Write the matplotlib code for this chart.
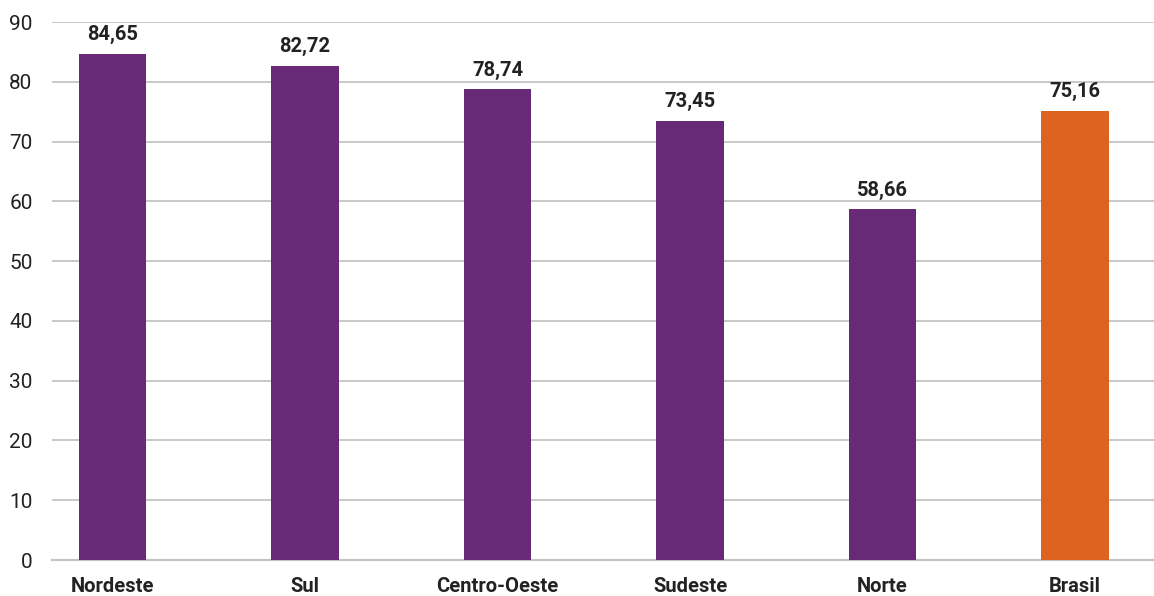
import matplotlib
matplotlib.use("Agg")
import matplotlib.pyplot as plt
from matplotlib import font_manager

categories = ["Nordeste", "Sul", "Centro-Oeste", "Sudeste", "Norte", "Brasil"]
values = [84.65, 82.72, 78.74, 73.45, 58.66, 75.16]
bar_colors = ["#682a77", "#682a77", "#682a77", "#682a77", "#682a77", "#dc6420"]
yticks = [0, 10, 20, 30, 40, 50, 60, 70, 80, 90]

names = {f.name for f in font_manager.fontManager.ttflist}
fam = [f for f in ["Liberation Sans Narrow", "Roboto", "DejaVu Sans"] if f in names]
plt.rcParams["font.family"] = fam

fig = plt.figure(figsize=(11.54, 5.96), dpi=100)
ax = fig.add_axes([52/1154, 36/596, 1102/1154, 538/596])

x = list(range(len(categories)))
bars = ax.bar(x, values, width=0.35, color=bar_colors, zorder=3)

for xi, v in zip(x, values):
    ax.annotate(f"{v:.2f}".replace(".", ","), (xi, v), xytext=(0, 7),
                textcoords="offset points", ha="center", va="bottom",
                fontsize=14.5, fontweight="bold", color="#222222")

ax.set_ylim(0, 90)
ax.set_xlim(-0.315, 5.41)
ax.set_yticks(yticks)
ax.set_xticks(x)
ax.set_xticklabels(categories, fontsize=14.5, fontweight="bold", color="#222222")
ax.tick_params(axis="y", length=0, pad=14, labelsize=15, labelcolor="#222222")
ax.tick_params(axis="x", length=0, pad=12)
ax.grid(axis="y", color="#c4c4c4", linewidth=1.3, zorder=0)
for s in ["top", "right", "left"]:
    ax.spines[s].set_visible(False)
ax.spines["bottom"].set_color("#c4c4c4")
ax.spines["bottom"].set_linewidth(1.6)

fig.savefig("out.png", dpi=100)
